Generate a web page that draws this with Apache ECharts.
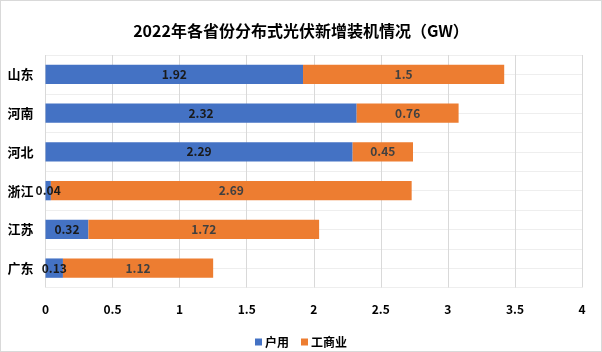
<!DOCTYPE html>
<html>
<head>
<meta charset="utf-8">
<script src="https://cdn.jsdelivr.net/npm/echarts@6/dist/echarts.min.js"></script>
<style>
  html, body { margin: 0; padding: 0; background: #fff; }
  #wrap { position: relative; width: 602px; height: 352px; }
  #main { position: absolute; left: 0; top: 0; width: 602px; height: 352px; }
  #frame { position: absolute; left: 0; top: 0; width: 602px; height: 352px; box-sizing: border-box; border: 1px solid #d9d9d9; pointer-events: none; }
</style>
</head>
<body>
<div id="wrap">
  <div id="main"></div>
  <div id="frame"></div>
</div>
<script>
// 省份（从上到下）
const provinces = ['山东', '河南', '河北', '浙江', '江苏', '广东']
const household = [1.92, 2.32, 2.29, 0.04, 0.32, 0.13] // 户用
const commercial = [1.5, 0.76, 0.45, 2.69, 1.72, 1.12] // 工商业
const xTicks = [0, 4, 0.5] // min, max, interval

const font = '"Noto Sans CJK SC", "Noto Sans", sans-serif'

const chart = echarts.init(document.getElementById('main'))

chart.setOption({
  textStyle: { fontFamily: font },
  animation: false,
  title: {
    text: '2022年各省份分布式光伏新增装机情况（GW）',
    left: 'center',
    top: 18,
    textStyle: {
      fontFamily: font,
      fontSize: 16,
      fontWeight: 'bold',
      color: '#000'
    }
  },
  legend: {
    data: ['户用', '工商业'],
    top: 331,
    left: 'center',
    itemWidth: 7,
    itemHeight: 7,
    itemGap: 12,
    icon: 'rect',
    textStyle: {
      fontFamily: font,
      fontSize: 12,
      fontWeight: 'bold',
      color: '#000',
      padding: [0, 0, 0, -2]
    }
  },
  grid: {
    left: 45.5,
    right: 20,
    top: 55,
    bottom: 64.5
  },
  xAxis: {
    type: 'value',
    min: xTicks[0],
    max: xTicks[1],
    interval: xTicks[2],
    axisLine: { show: false },
    axisTick: { show: false },
    axisLabel: {
      margin: 16,
      fontFamily: font,
      fontSize: 12,
      fontWeight: 'bold',
      color: '#000'
    },
    splitLine: {
      lineStyle: { color: '#d9d9d9', width: 1 }
    }
  },
  yAxis: [
    {
      type: 'category',
      data: provinces,
      inverse: true,
      axisLine: { show: false },
      axisTick: { show: false },
      axisLabel: {
        margin: 12,
        fontFamily: font,
        fontSize: 13,
        fontWeight: 'bold',
        color: '#000'
      },
      splitLine: { show: false }
    },
    {
      // 只用来画半个类目间隔的横向网格线
      type: 'value',
      min: 0,
      max: 12,
      interval: 1,
      axisLine: { show: false },
      axisTick: { show: false },
      axisLabel: { show: false },
      splitLine: {
        lineStyle: { color: '#eeeeee', width: 1 }
      }
    }
  ],
  series: [
    {
      name: '户用',
      type: 'bar',
      stack: 'total',
      yAxisIndex: 0,
      barWidth: '50%',
      itemStyle: { color: '#4472C4' },
      label: {
        show: true,
        position: 'inside',
        fontFamily: font,
        fontSize: 12,
        fontWeight: 'bold',
        color: '#1a1a1a'
      },
      data: household
    },
    {
      name: '工商业',
      type: 'bar',
      stack: 'total',
      yAxisIndex: 0,
      barWidth: '50%',
      itemStyle: { color: '#ED7D31' },
      label: {
        show: true,
        position: 'inside',
        fontFamily: font,
        fontSize: 12,
        fontWeight: 'bold',
        color: '#404040'
      },
      data: commercial
    }
  ]
})
</script>
</body>
</html>
